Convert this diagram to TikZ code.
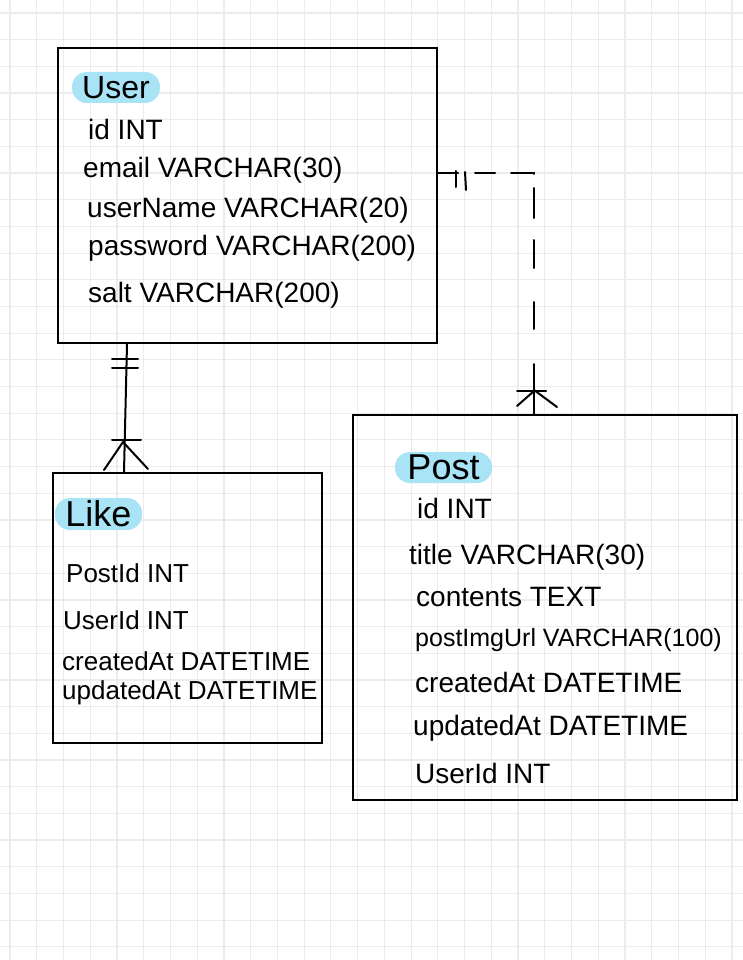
\documentclass[tikz,border=0pt]{standalone}
\usepackage{fontspec}
\setmainfont{Liberation Sans}
\definecolor{pillblue}{RGB}{168,228,246}
\definecolor{gridgray}{RGB}{236,236,236}
\tikzset{
  gridline/.style={draw=gridgray, line width=1.2pt},
  tablebox/.style={draw, line width=2pt, inner sep=0pt},
  tabletitle/.style={fill=pillblue, rounded corners=15pt, inner sep=0pt, font=\fontsize{36}{40}\selectfont},
  field/.style={anchor=base west, inner sep=0pt, font=\fontsize{28}{32}\selectfont},
  likefield/.style={field, font=\fontsize{26}{30}\selectfont},
  rel/.style={line width=2pt, line cap=round}
}
\begin{document}
\begin{tikzpicture}[x=1pt,y=-1pt]
\useasboundingbox (0,0) rectangle (743,960);
% grid paper
\foreach \i in {0,...,27} \draw[gridline] (10+26.74*\i,0) -- (10+26.74*\i,960);
\foreach \j in {0,...,35} \draw[gridline] (0,13+26.68*\j) -- (743,13+26.68*\j);
% tables
\node[tablebox, minimum width=379pt, minimum height=295pt] (user) at (247.5,195.5) {};
\node[tablebox, minimum width=269pt, minimum height=270pt] (like) at (187.5,608) {};
\node[tablebox, minimum width=384pt, minimum height=385pt] (post) at (545,607.5) {};
% User
\node[tabletitle, minimum width=88pt, minimum height=31pt, font=\fontsize{32}{36}\selectfont] (usertitle) at (116,87.5) {User};
\node[field] (uid) at (88,140) {id INT};
\node[field] (uemail) at (83,178) {email VARCHAR(30)};
\node[field] (uname) at (87,217) {userName VARCHAR(20)};
\node[field] (upass) at (88,255) {password VARCHAR(200)};
\node[field] (usalt) at (88,302) {salt VARCHAR(200)};
% Like
\node[tabletitle, minimum width=87pt, minimum height=32pt] (liketitle) at (98.5,514) {Like};
\node[likefield] (lpost) at (66,582) {PostId INT};
\node[likefield] (luser) at (63,629) {UserId INT};
\node[likefield] (lcreated) at (62,670) {createdAt DATETIME};
\node[likefield] (lupdated) at (62,699) {updatedAt DATETIME};
% Post
\node[tabletitle, minimum width=97pt, minimum height=31pt] (posttitle) at (443.5,467.5) {Post\hspace{20pt}};
\node[field] (pid) at (417,518) {id INT};
\node[field] (ptitle) at (409,564) {title VARCHAR(30)};
\node[field] (pcontents) at (416,606) {contents TEXT};
\node[field, font=\fontsize{25}{30}\selectfont] (pimg) at (415,646) {postImgUrl VARCHAR(100)};
\node[field] (pcreated) at (415,692) {createdAt DATETIME};
\node[field] (pupdated) at (413,735) {updatedAt DATETIME};
\node[field] (puser) at (415,783) {UserId INT};
% User -- Like
\coordinate (ul1) at ([xshift=-120.5pt]user.south);
\coordinate (ul2) at ([xshift=-63.5pt]like.north);
\draw[rel] (ul1) -- (ul2);
\draw[rel] ([shift={(-15,15)}]ul1) -- ++(26,0);
\draw[rel] ([shift={(-15,24)}]ul1) -- ++(26,0);
\draw[rel] ([shift={(-12,-32)}]ul2) -- ++(29,0);
\draw[rel] ([shift={(-1,-30)}]ul2) -- ([shift={(-20,-2)}]ul2);
\draw[rel] ([shift={(-1,-30)}]ul2) -- ([shift={(24,-3)}]ul2);
% User -- Post
\coordinate (up1) at ([yshift=-126pt]user.north east);
\coordinate (up2) at ([xshift=-11pt]post.north);
\draw[rel] (up1) -- ++(20,0);
\draw[rel] ([shift={(18,-2)}]up1) -- ++(0,16);
\draw[rel] ([shift={(27,-1)}]up1) -- ++(1,18);
\draw[rel, dash pattern=on 20pt off 16pt on 24pt off 14pt on 30pt off 22pt on 28pt off 34pt on 28pt off 40pt] ([xshift=37pt]up1) -- (up1 -| up2) -- ([yshift=85pt]up2);
\draw[rel] ([yshift=50pt]up2) -- (up2);
\draw[rel] ([shift={(-17,-23)}]up2) -- ++(29,0);
\draw[rel] ([shift={(0,-23)}]up2) -- ([shift={(-17,-8)}]up2);
\draw[rel] ([shift={(0,-24)}]up2) -- ([shift={(23,-7)}]up2);
\end{tikzpicture}
\end{document}
